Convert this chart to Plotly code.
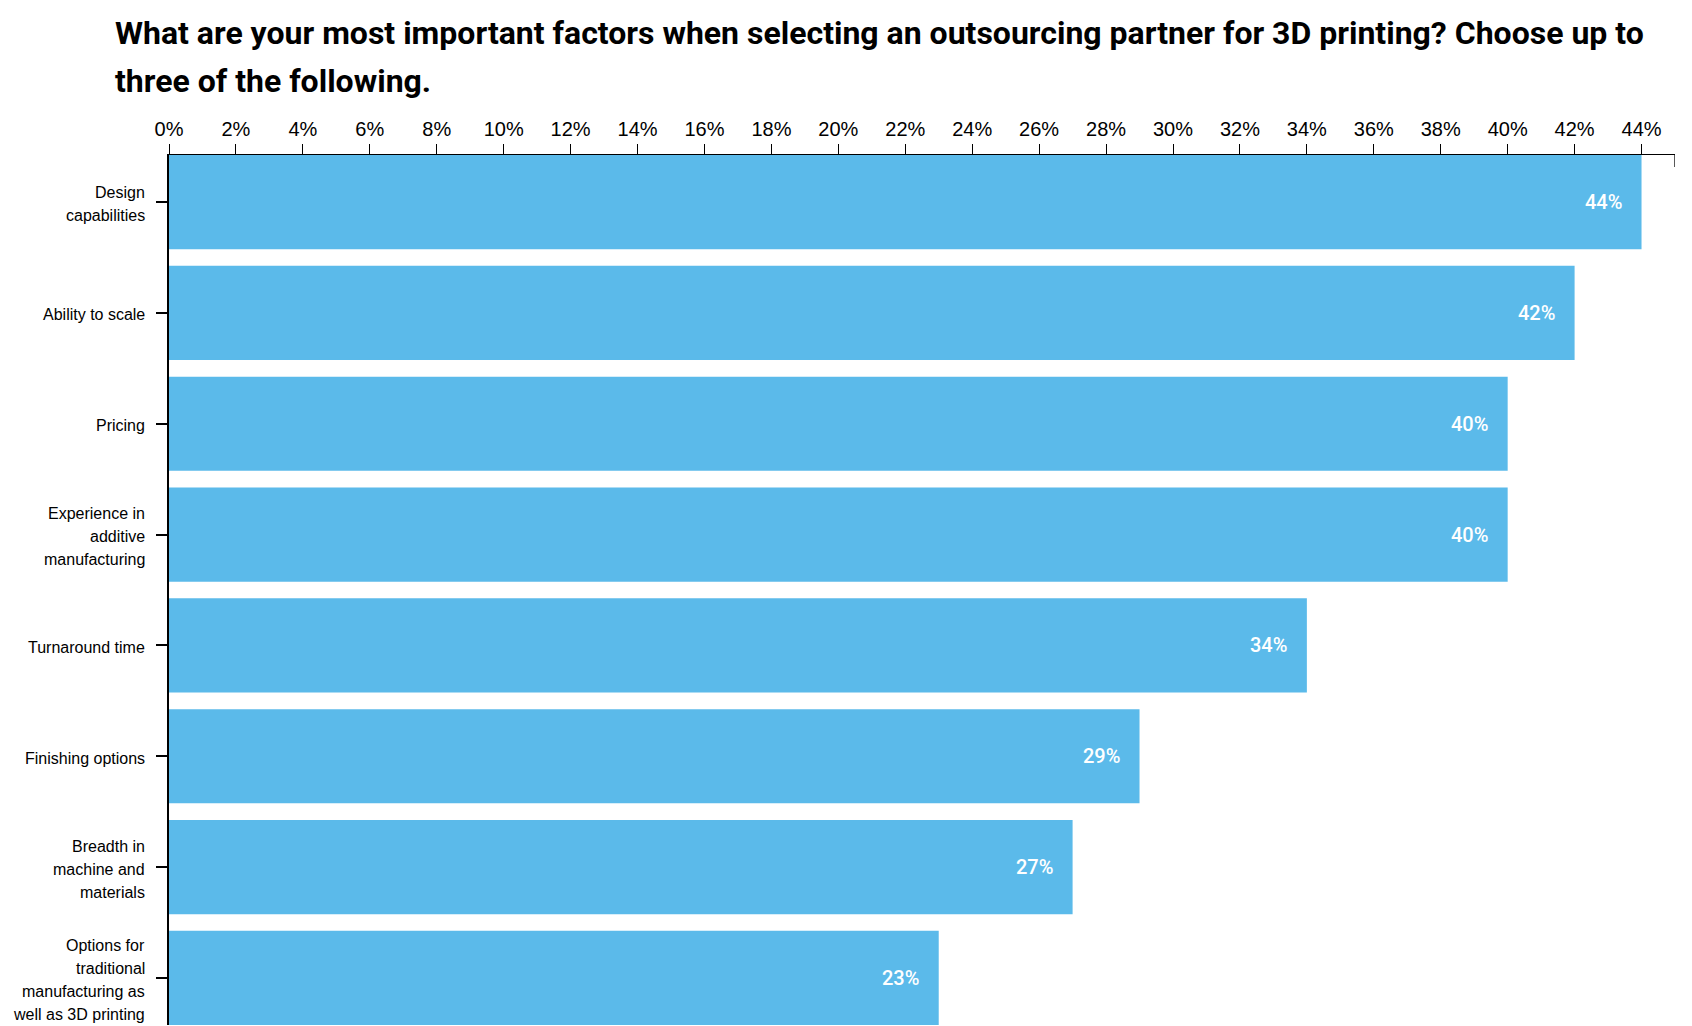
import plotly.graph_objects as go

categories = [
    "Design<br>capabilities",
    "Ability to scale",
    "Pricing",
    "Experience in<br>additive<br>manufacturing",
    "Turnaround time",
    "Finishing options",
    "Breadth in<br>machine and<br>materials",
    "Options for<br>traditional<br>manufacturing as<br>well as 3D printing",
]
values = [44, 42, 40, 40, 34, 29, 27, 23]
x_tick_values = list(range(0, 45, 2))
x_tick_labels = [f"{v}%" for v in x_tick_values]

title_lines = [
    "What are your most important factors when selecting an outsourcing partner for 3D printing? Choose up to",
    "three of the following.",
]

BAR_COLOR = "#5bbaea"
W, H = 1692, 1026
M_L, M_R, M_T, M_B = 161, 25, 147, 9
PLOT_H = H - M_T - M_B
PLOT_W = W - M_L - M_R
BARGAP = 0.15
n = len(categories)

fig = go.Figure()
fig.add_trace(go.Bar(
    x=values,
    y=list(range(n)),
    orientation="h",
    marker=dict(color=BAR_COLOR, line=dict(width=0)),
    hoverinfo="skip",
))

annotations = []
# value labels inside bars
for i, v in enumerate(values):
    annotations.append(dict(
        x=v, y=i, xref="x", yref="y", text=f"{v}%", showarrow=False,
        xanchor="right", yanchor="middle", xshift=-18,
        font=dict(family="Roboto", size=20, color="white", weight=500),
    ))
# category labels with custom line spacing
LINE_H = 23
for i, c in enumerate(categories):
    lines = c.split("<br>")
    k = len(lines)
    for j, ln in enumerate(lines):
        off = (j - (k - 1) / 2) * LINE_H
        annotations.append(dict(
            x=0, y=i, xref="paper", yref="y", text=ln, showarrow=False,
            xanchor="right", yanchor="middle", xshift=-22, yshift=-off - 2,
            font=dict(family="Liberation Sans, Arial", size=16, color="black"),
        ))
# title
title_centers = [25, 73]
for ln, cy in zip(title_lines, title_centers):
    annotations.append(dict(
        x=(105 - M_L) / PLOT_W, y=(H - M_B - cy) / PLOT_H, xref="paper", yref="paper",
        text=ln, showarrow=False, xanchor="left", yanchor="middle",
        font=dict(family="Roboto", size=32, color="black", weight="bold"),
    ))

fig.update_layout(
    width=W, height=H,
    margin=dict(l=M_L, r=M_R, t=M_T, b=M_B, pad=0),
    paper_bgcolor="white", plot_bgcolor="white",
    showlegend=False,
    bargap=BARGAP,
    annotations=annotations,
    shapes=[dict(type="line", xref="x", yref="paper", x0=45, x1=45,
                 y0=1, y1=1 - 12 / PLOT_H, line=dict(color="black", width=1.3))],
)
fig.update_xaxes(
    side="top", range=[0, 45], tickvals=x_tick_values, ticktext=x_tick_labels,
    ticks="outside", ticklen=10, tickwidth=1.3, tickcolor="black",
    showline=True, linecolor="black", linewidth=1.3,
    showgrid=False, zeroline=False,
    tickfont=dict(family="Liberation Sans, Arial", size=20, color="black"),
)
fig.update_yaxes(
    range=[n - 0.5 - BARGAP / 2, -0.5 + BARGAP / 2],
    tickvals=list(range(n)), ticktext=[""] * n,
    ticks="outside", ticklen=11, tickwidth=2, tickcolor="black",
    showline=True, linecolor="black", linewidth=2,
    showgrid=False, zeroline=False,
)

fig.write_html("out.html")
